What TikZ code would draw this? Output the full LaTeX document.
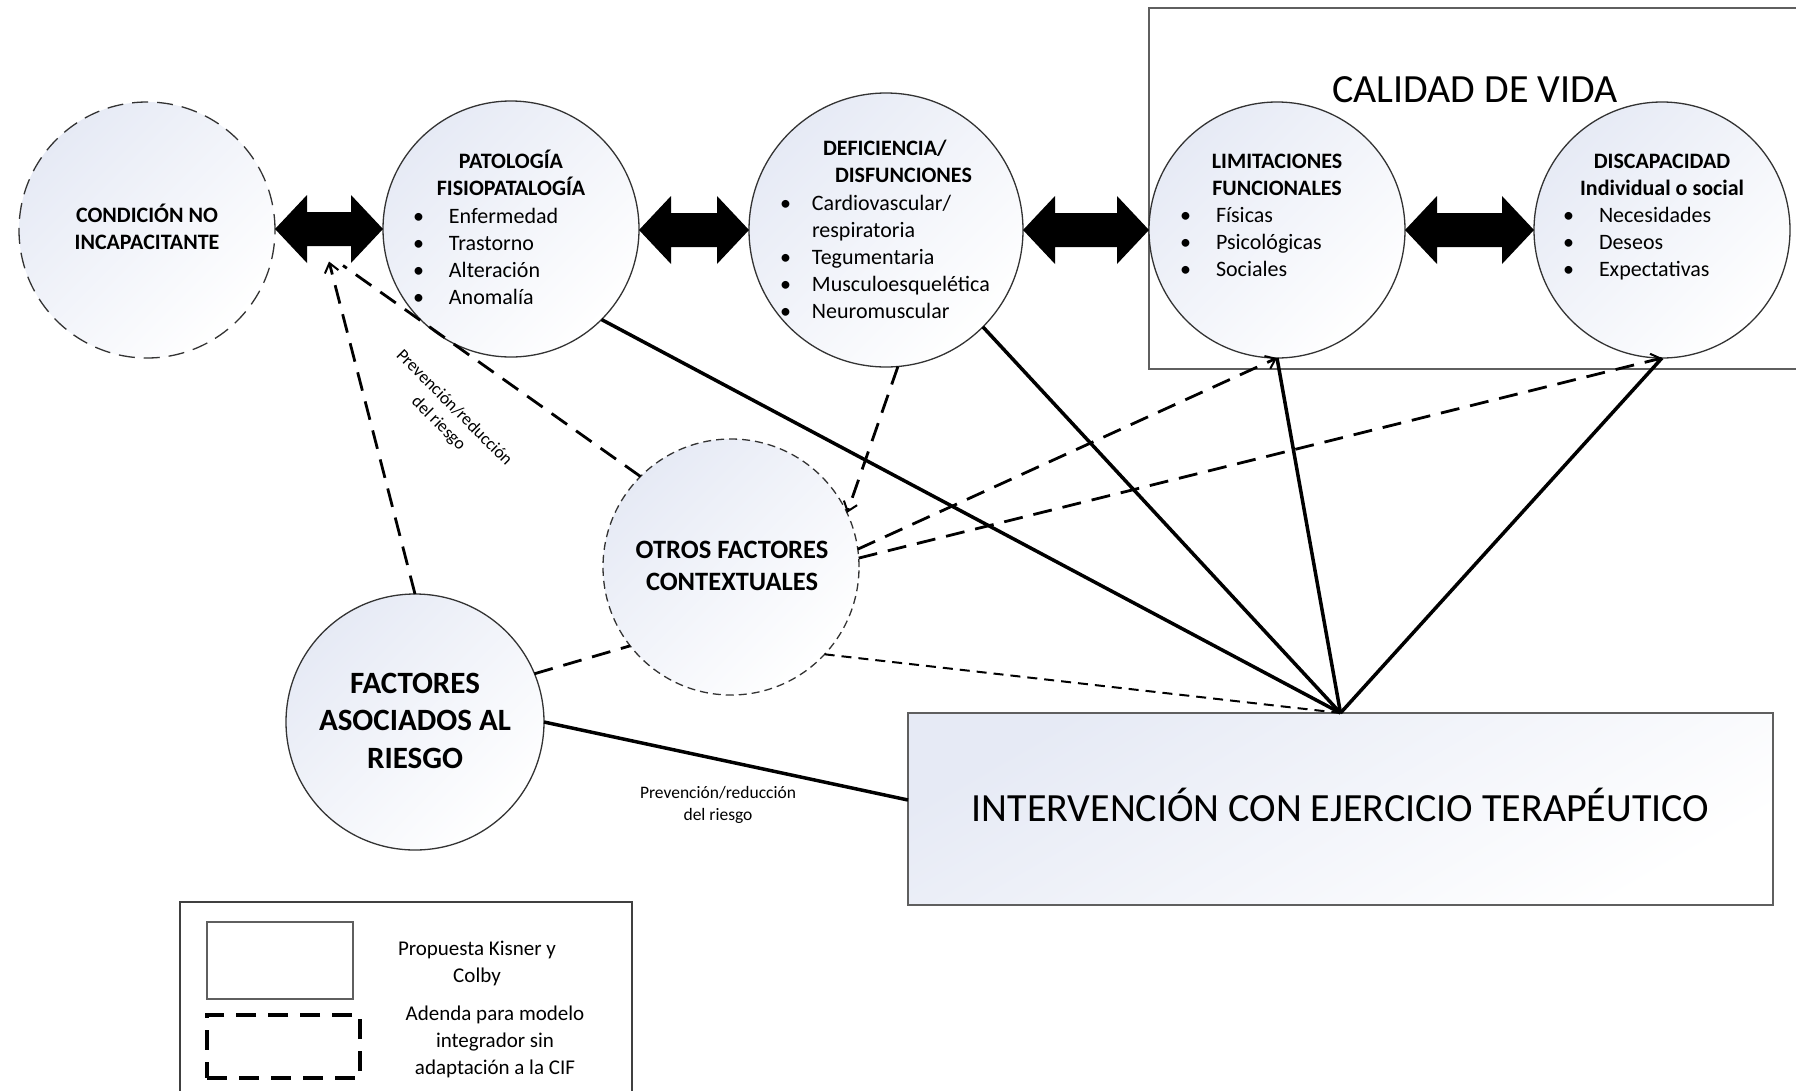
\documentclass[tikz,border=0pt]{standalone}
\usepackage{fontspec}
\setmainfont{Carlito}
\usetikzlibrary{arrows.meta,calc,shapes.geometric}

\definecolor{tint}{RGB}{230,234,245}
\definecolor{frame}{RGB}{95,95,95}

% bullet with a fixed indent before the item text
\newcommand\bl[1][36pt]{\makebox[#1][l]{\textbullet}}
% stacked lines; the first baseline is the node's base
\newcommand\rows[2][l]{\begin{tabular}[t]{@{}#1@{}}#2\end{tabular}}
% horizontal block arrow with a head at each end
\newcommand\dblarrow[2]{%
  \fill let \p1=(#1), \p2=(#2) in
    (\x1,\y2) -- (\x1+32pt,\y2+34pt) -- (\x1+32pt,\y2+17pt)
    -- (\x2-32pt,\y2+17pt) -- (\x2-32pt,\y2+34pt) -- (\x2,\y2)
    -- (\x2-32pt,\y2-34pt) -- (\x2-32pt,\y2-17pt)
    -- (\x1+32pt,\y2-17pt) -- (\x1+32pt,\y2-34pt) -- cycle;}

\begin{document}
\begin{tikzpicture}[x=1pt,y=-1pt,
  every node/.style={inner sep=0pt,outer sep=0pt},
  bubble/.style={ellipse,draw=black!80,line width=1.3pt,
    top color=tint,bottom color=white,shading angle=45},
  ring/.style={bubble,minimum width=256pt,minimum height=256pt},
  hd/.style={anchor=base,font=\bfseries\fontsize{22}{27}\selectfont},
  lst/.style={anchor=base west,font=\fontsize{22}{27}\selectfont},
  note/.style={font=\fontsize{17.5}{22}\selectfont},
  tie/.style={line width=3.5pt},
  dashline/.style={line width=2.8pt,dash pattern=on 19pt off 11pt},
  fine/.style={line width=2pt,dash pattern=on 10pt off 7pt},
  tip/.style={-{Straight Barb[length=9pt,width=14pt,line width=2pt]}},
]
\useasboundingbox (0,0) rectangle (1796,1090);

% quality-of-life frame (runs off the right edge)
\node[draw=frame,line width=1.6pt,anchor=north west,
  minimum width=680pt,minimum height=361pt] (qol) at (1149,8) {};
\node[anchor=base,font=\fontsize{40}{48}\selectfont] (qol-t) at (1475,102) {CALIDAD DE VIDA};

% stages
\node[ring,dash pattern=on 16pt off 9pt] (cond) at (147,230) {};
\node[ring] (pat) at (511,229) {};
\node[ring,minimum width=274pt,minimum height=274pt] (def) at (886,230) {};
\node[ring] (lim) at (1277,230) {};
\node[ring] (dis) at (1662,230) {};
\node[ring,dash pattern=on 8pt off 5pt] (otr) at (731,567) {};
\node[ring,minimum width=258pt] (fac) at (415,722) {};

% therapeutic exercise box
\node[draw=frame,line width=1.6pt,minimum width=865pt,minimum height=192pt,
  top color=tint,bottom color=white,shading angle=30,
  text height=25.8pt,text depth=0pt,font=\fontsize{40}{48}\selectfont]
  (int) at (1340.5,809) {INTERVENCIÓN CON EJERCICIO TERAPÉUTICO};

% block arrows between stages
\dblarrow{cond.east}{pat.west}
\dblarrow{pat.east}{def.west}
\dblarrow{def.east}{lim.west}
\dblarrow{lim.east}{dis.west}

% texts inside the stages
\node[hd] (cond-t) at (147,222) {\rows[c]{CONDICIÓN NO\\INCAPACITANTE}};
\node[hd] (pat-t) at (511,168) {\rows[c]{PATOLOGÍA\\FISIOPATALOGÍA}};
\node[lst] (pat-l) at (413,223) {\rows{\bl Enfermedad\\\bl Trastorno\\\bl Alteración\\\bl Anomalía}};
\node[hd,anchor=base west] (def-t) at (823,155) {\rows{DEFICIENCIA/\\\hspace*{12pt}DISFUNCIONES}};
\node[lst] (def-l) at (780,210) {\rows{\bl[32pt]Cardiovascular/\\\hspace*{32pt}respiratoria\\\bl[32pt]Tegumentaria\\\bl[32pt]Musculoesquelética\\\bl[32pt]Neuromuscular}};
\node[hd] (lim-t) at (1277,168) {\rows[c]{LIMITACIONES\\FUNCIONALES}};
\node[lst] (lim-l) at (1180,222) {\rows{\bl Físicas\\\bl Psicológicas\\\bl Sociales}};
\node[hd] (dis-t) at (1662,168) {\rows[c]{DISCAPACIDAD\\Individual o social}};
\node[lst] (dis-l) at (1563,222) {\rows{\bl Necesidades\\\bl Deseos\\\bl Expectativas}};
\node[anchor=base,font=\bfseries\fontsize{26.5}{32}\selectfont] (otr-t) at (732,558) {\rows[c]{OTROS FACTORES\\CONTEXTUALES}};
\node[anchor=base,font=\bfseries\fontsize{31}{37.5}\selectfont] (fac-t) at (415,693) {\rows[c]{FACTORES\\ASOCIADOS AL\\RIESGO}};

% ends below the first block arrow
\coordinate (a1) at ($(cond.east)!0.5!(pat.west)+(0,32)$);
\coordinate (a1r) at ($(a1)+(14,4)$);

% solid links to the intervention
\draw[tie] (pat.-45) -- (int.north);
\draw[tie] (def.-45) -- (int.north);
\draw[tie] (lim.south) -- (int.north);
\draw[tie] (dis.south) -- (int.north);
\draw[tie] (fac.east) -- ($(int.west)+(0,-9)$);

% dashed links of the integrating model
\draw[dashline,tip] (fac.north) -- (a1);
\draw[dashline] (otr.135) -- (a1r);
\draw[dashline,tip] (def.-85) -- (otr.25);
\draw[dashline,tip] (otr.8) -- (lim.south);
\draw[dashline,tip] (otr.4) -- (dis.south);
\draw[fine] (otr.-43) -- (int.north);
\draw[dashline] (fac.22) -- (otr.218);

% link labels
\node[note,rotate=-45] (risk-a) at (446,416) {\rows[c]{Prevención/reducción\\del riesgo}};
\node[note,anchor=base] (risk-b) at (718,798) {\rows[c]{Prevención/reducción\\del riesgo}};

% legend (runs off the bottom edge)
\node[draw=black!75,line width=1.6pt,anchor=north west,
  minimum width=452pt,minimum height=220pt] (leg) at (180,902) {};
\node[draw=frame,line width=1.6pt,minimum width=146pt,minimum height=77pt] (leg-a) at (280,960.5) {};
\node[draw=black,line width=3.5pt,dash pattern=on 20pt off 12pt,
  minimum width=153pt,minimum height=63pt] (leg-b) at (283.5,1046.5) {};
\node[anchor=base,font=\fontsize{21}{27}\selectfont] (leg-at) at (477,955) {\rows[c]{Propuesta Kisner y\\Colby}};
\node[anchor=base,font=\fontsize{21}{27}\selectfont] (leg-bt) at (495,1020) {\rows[c]{Adenda para modelo\\integrador sin\\adaptación a la CIF}};
\end{tikzpicture}
\end{document}
